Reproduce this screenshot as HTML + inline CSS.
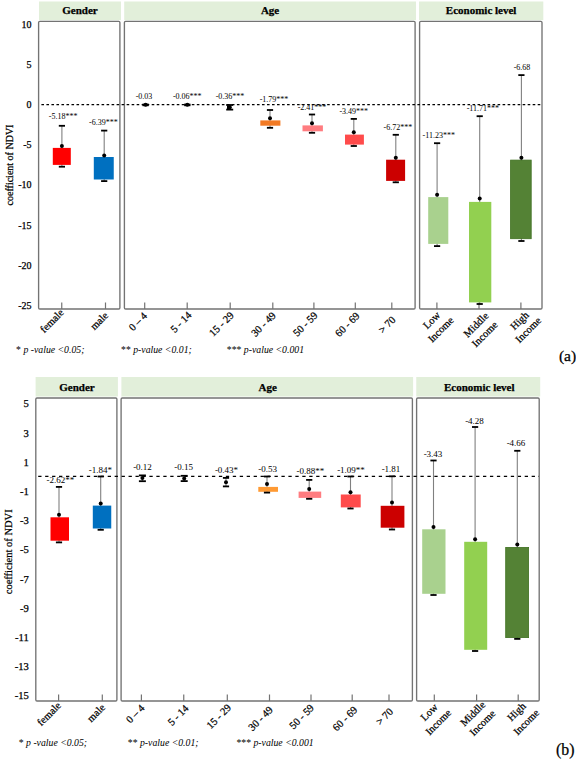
<!DOCTYPE html>
<html><head><meta charset="utf-8"><style>
html,body{margin:0;padding:0;background:#fff;}
svg{display:block;}
text{font-family:"Liberation Serif", serif;fill:#000;stroke:#000;stroke-width:0.25px;}
text.v{stroke:none;}
</style></head><body>
<svg width="576" height="759" viewBox="0 0 576 759">
<rect x="39.00" y="1.50" width="82.00" height="18.70" fill="#e2efda" />
<rect x="124.20" y="1.50" width="291.80" height="18.70" fill="#e2efda" />
<rect x="419.00" y="1.50" width="124.30" height="18.70" fill="#e2efda" />
<text x="80.00" y="14.30" font-size="11" text-anchor="middle" font-weight="bold" >Gender</text>
<text x="270.10" y="14.30" font-size="11" text-anchor="middle" font-weight="bold" >Age</text>
<text x="481.15" y="14.30" font-size="11" text-anchor="middle" font-weight="bold" >Economic level</text>
<rect x="38.60" y="21.30" width="81.30" height="287.70" rx="1.2" fill="none" stroke="#737373" stroke-width="1.35"/>
<rect x="124.40" y="21.30" width="290.70" height="287.70" rx="1.2" fill="none" stroke="#737373" stroke-width="1.35"/>
<rect x="419.60" y="21.30" width="122.40" height="287.70" rx="1.2" fill="none" stroke="#737373" stroke-width="1.35"/>
<line x1="41.40" y1="104.70" x2="541.50" y2="104.70" stroke="#000" stroke-width="1.2" stroke-dasharray="2.6 2.413"/>
<line x1="61.75" y1="302.50" x2="61.75" y2="309.00" stroke="#737373" stroke-width="1.2" />
<line x1="105.50" y1="302.50" x2="105.50" y2="309.00" stroke="#737373" stroke-width="1.2" />
<line x1="144.70" y1="302.50" x2="144.70" y2="309.00" stroke="#737373" stroke-width="1.2" />
<line x1="187.20" y1="302.50" x2="187.20" y2="309.00" stroke="#737373" stroke-width="1.2" />
<line x1="230.20" y1="302.50" x2="230.20" y2="309.00" stroke="#737373" stroke-width="1.2" />
<line x1="272.80" y1="302.50" x2="272.80" y2="309.00" stroke="#737373" stroke-width="1.2" />
<line x1="313.90" y1="302.50" x2="313.90" y2="309.00" stroke="#737373" stroke-width="1.2" />
<line x1="355.30" y1="302.50" x2="355.30" y2="309.00" stroke="#737373" stroke-width="1.2" />
<line x1="391.80" y1="302.50" x2="391.80" y2="309.00" stroke="#737373" stroke-width="1.2" />
<line x1="436.90" y1="302.50" x2="436.90" y2="309.00" stroke="#737373" stroke-width="1.2" />
<line x1="479.00" y1="302.50" x2="479.00" y2="309.00" stroke="#737373" stroke-width="1.2" />
<line x1="520.90" y1="302.50" x2="520.90" y2="309.00" stroke="#737373" stroke-width="1.2" />
<text x="31.60" y="27.60" font-size="10" text-anchor="end" >10</text>
<text x="31.60" y="67.80" font-size="10" text-anchor="end" >5</text>
<text x="31.60" y="108.00" font-size="10" text-anchor="end" >0</text>
<text x="31.60" y="148.20" font-size="10" text-anchor="end" >-5</text>
<text x="31.60" y="188.40" font-size="10" text-anchor="end" >-10</text>
<text x="31.60" y="228.60" font-size="10" text-anchor="end" >-15</text>
<text x="31.60" y="268.80" font-size="10" text-anchor="end" >-20</text>
<text x="31.60" y="309.00" font-size="10" text-anchor="end" >-25</text>
<text x="0" y="0" font-size="10" text-anchor="middle" transform="translate(13,165) rotate(-90)">coefficient of NDVI</text>
<line x1="61.90" y1="125.80" x2="61.90" y2="166.70" stroke="#808080" stroke-width="1.1" />
<rect x="52.80" y="147.90" width="18.00" height="17.00" fill="#ff0000" />
<rect x="58.80" y="124.90" width="6.20" height="1.80" fill="#000" />
<rect x="58.80" y="165.80" width="6.20" height="1.80" fill="#000" />
<circle cx="61.90" cy="146.00" r="2.0" fill="#000"/>
<text x="63.10" y="119.20" font-size="8" text-anchor="middle" class="v">-5.18***</text>
<line x1="104.20" y1="130.60" x2="104.20" y2="181.10" stroke="#808080" stroke-width="1.1" />
<rect x="93.80" y="157.00" width="19.95" height="22.50" fill="#0070c0" />
<rect x="101.10" y="129.70" width="6.20" height="1.80" fill="#000" />
<rect x="101.10" y="180.20" width="6.20" height="1.80" fill="#000" />
<circle cx="104.20" cy="155.40" r="2.0" fill="#000"/>
<text x="103.40" y="124.90" font-size="8" text-anchor="middle" class="v">-6.39***</text>
<line x1="145.60" y1="104.50" x2="145.60" y2="105.30" stroke="#808080" stroke-width="1.1" />
<rect x="142.50" y="103.60" width="6.20" height="1.80" fill="#000" />
<rect x="142.50" y="104.40" width="6.20" height="1.80" fill="#000" />
<circle cx="145.60" cy="104.80" r="2.0" fill="#000"/>
<text x="144.00" y="99.10" font-size="8" text-anchor="middle" class="v">-0.03</text>
<line x1="187.30" y1="104.50" x2="187.30" y2="105.30" stroke="#808080" stroke-width="1.1" />
<rect x="184.20" y="103.60" width="6.20" height="1.80" fill="#000" />
<rect x="184.20" y="104.40" width="6.20" height="1.80" fill="#000" />
<circle cx="187.30" cy="104.80" r="2.0" fill="#000"/>
<text x="187.30" y="99.10" font-size="8" text-anchor="middle" class="v">-0.06***</text>
<line x1="229.70" y1="105.00" x2="229.70" y2="109.60" stroke="#808080" stroke-width="1.1" />
<rect x="227.00" y="105.50" width="4.20" height="3.50" fill="#000" />
<rect x="226.20" y="104.10" width="7.00" height="1.80" fill="#000" />
<rect x="226.20" y="108.70" width="7.00" height="1.80" fill="#000" />
<circle cx="229.70" cy="107.20" r="2.0" fill="#000"/>
<text x="230.00" y="99.10" font-size="8" text-anchor="middle" class="v">-0.36***</text>
<line x1="270.00" y1="110.00" x2="270.00" y2="127.80" stroke="#808080" stroke-width="1.1" />
<rect x="260.30" y="120.40" width="20.10" height="5.30" fill="#f27a24" />
<rect x="266.90" y="109.10" width="6.20" height="1.80" fill="#000" />
<rect x="266.90" y="126.90" width="6.20" height="1.80" fill="#000" />
<circle cx="270.00" cy="118.30" r="2.0" fill="#000"/>
<text x="274.00" y="102.20" font-size="8" text-anchor="middle" class="v">-1.79***</text>
<line x1="312.00" y1="114.50" x2="312.00" y2="132.80" stroke="#808080" stroke-width="1.1" />
<rect x="302.50" y="125.40" width="20.40" height="5.90" fill="#ff7c80" />
<rect x="308.90" y="113.60" width="6.20" height="1.80" fill="#000" />
<rect x="308.90" y="131.90" width="6.20" height="1.80" fill="#000" />
<circle cx="312.00" cy="123.30" r="2.0" fill="#000"/>
<text x="312.00" y="109.60" font-size="8" text-anchor="middle" class="v">-2.41***</text>
<line x1="353.80" y1="118.90" x2="353.80" y2="146.00" stroke="#808080" stroke-width="1.1" />
<rect x="345.00" y="134.60" width="18.90" height="10.00" fill="#ff4b4b" />
<rect x="350.70" y="118.00" width="6.20" height="1.80" fill="#000" />
<rect x="350.70" y="145.10" width="6.20" height="1.80" fill="#000" />
<circle cx="353.80" cy="132.20" r="2.0" fill="#000"/>
<text x="353.80" y="114.10" font-size="8" text-anchor="middle" class="v">-3.49***</text>
<line x1="395.80" y1="134.80" x2="395.80" y2="182.30" stroke="#808080" stroke-width="1.1" />
<rect x="386.10" y="159.70" width="19.00" height="21.20" fill="#cc0000" />
<rect x="392.70" y="133.90" width="6.20" height="1.80" fill="#000" />
<rect x="392.70" y="181.40" width="6.20" height="1.80" fill="#000" />
<circle cx="395.80" cy="157.80" r="2.0" fill="#000"/>
<text x="397.90" y="130.00" font-size="8" text-anchor="middle" class="v">-6.72***</text>
<line x1="437.10" y1="143.20" x2="437.10" y2="246.10" stroke="#808080" stroke-width="1.1" />
<rect x="428.20" y="197.10" width="20.10" height="46.80" fill="#a9d18e" />
<rect x="434.00" y="142.30" width="6.20" height="1.80" fill="#000" />
<rect x="434.00" y="245.20" width="6.20" height="1.80" fill="#000" />
<circle cx="437.10" cy="194.70" r="2.0" fill="#000"/>
<text x="438.80" y="138.30" font-size="8" text-anchor="middle" class="v">-11.23***</text>
<line x1="479.70" y1="116.20" x2="479.70" y2="304.00" stroke="#808080" stroke-width="1.1" />
<rect x="469.00" y="201.90" width="22.30" height="100.50" fill="#92d050" />
<rect x="476.60" y="115.30" width="6.20" height="1.80" fill="#000" />
<rect x="476.60" y="303.10" width="6.20" height="1.80" fill="#000" />
<circle cx="479.70" cy="198.50" r="2.0" fill="#000"/>
<text x="482.90" y="110.90" font-size="8" text-anchor="middle" class="v">-11.71***</text>
<line x1="521.40" y1="75.10" x2="521.40" y2="241.00" stroke="#808080" stroke-width="1.1" />
<rect x="510.60" y="160.10" width="20.60" height="78.60" fill="#548235" stroke="#3f7020" stroke-width="0.8"/>
<rect x="518.30" y="74.20" width="6.20" height="1.80" fill="#000" />
<rect x="518.30" y="240.10" width="6.20" height="1.80" fill="#000" />
<circle cx="521.40" cy="157.70" r="2.0" fill="#000"/>
<text x="522.00" y="70.00" font-size="8" text-anchor="middle" class="v">-6.68</text>
<text class="v" x="16.10" y="352.50" font-size="9.75">* <tspan font-style="italic">p -value &lt;0.05;</tspan></text>
<text class="v" x="121.00" y="352.50" font-size="9.75">** <tspan font-style="italic">p-value &lt;0.01;</tspan></text>
<text class="v" x="226.80" y="352.50" font-size="9.75">*** <tspan font-style="italic">p-value &lt;0.001</tspan></text>
<text x="558.90" y="361.40" font-size="15.6" >(a)</text>
<text x="0" y="3.47" font-size="10.5" text-anchor="middle" transform="translate(51.85,320.95) rotate(-45)">female</text>
<text x="0" y="3.47" font-size="10.5" text-anchor="middle" transform="translate(99.20,320.85) rotate(-45)">male</text>
<text x="0" y="3.47" font-size="10.5" text-anchor="middle" transform="translate(137.90,321.55) rotate(-45)">0 – 4</text>
<text x="0" y="3.47" font-size="10.5" text-anchor="middle" transform="translate(181.00,322.10) rotate(-45)">5 - 14</text>
<text x="0" y="3.47" font-size="10.5" text-anchor="middle" transform="translate(221.40,324.10) rotate(-45)">15 - 29</text>
<text x="0" y="3.47" font-size="10.5" text-anchor="middle" transform="translate(263.45,324.25) rotate(-45)">30 - 49</text>
<text x="0" y="3.47" font-size="10.5" text-anchor="middle" transform="translate(305.30,324.10) rotate(-45)">50 - 59</text>
<text x="0" y="3.47" font-size="10.5" text-anchor="middle" transform="translate(347.30,324.55) rotate(-45)">60 - 69</text>
<text x="0" y="3.47" font-size="10.5" text-anchor="middle" transform="translate(387.05,324.70) rotate(-45)">&gt; 70</text>
<text x="0" y="3.47" font-size="10.5" text-anchor="middle" transform="translate(431.50,320.30) rotate(-45)">Low</text>
<text x="0" y="3.47" font-size="10.5" text-anchor="middle" transform="translate(440.80,329.50) rotate(-45)">Income</text>
<text x="0" y="3.47" font-size="10.5" text-anchor="middle" transform="translate(476.00,324.75) rotate(-45)">Middle</text>
<text x="0" y="3.47" font-size="10.5" text-anchor="middle" transform="translate(484.70,334.15) rotate(-45)">Income</text>
<text x="0" y="3.47" font-size="10.5" text-anchor="middle" transform="translate(519.50,320.70) rotate(-45)">High</text>
<text x="0" y="3.47" font-size="10.5" text-anchor="middle" transform="translate(528.20,329.90) rotate(-45)">Income</text>
<rect x="35.60" y="377.00" width="82.30" height="19.50" fill="#e2efda" />
<rect x="121.40" y="377.00" width="291.70" height="19.50" fill="#e2efda" />
<rect x="416.25" y="377.00" width="123.95" height="19.50" fill="#e2efda" />
<text x="77.05" y="391.00" font-size="11" text-anchor="middle" font-weight="bold" >Gender</text>
<text x="267.75" y="391.00" font-size="11" text-anchor="middle" font-weight="bold" >Age</text>
<text x="479.23" y="391.00" font-size="11" text-anchor="middle" font-weight="bold" >Economic level</text>
<rect x="35.80" y="398.00" width="81.10" height="303.00" rx="1.2" fill="none" stroke="#737373" stroke-width="1.35"/>
<rect x="121.10" y="398.00" width="291.30" height="303.00" rx="1.2" fill="none" stroke="#737373" stroke-width="1.35"/>
<rect x="416.60" y="398.00" width="122.60" height="303.00" rx="1.2" fill="none" stroke="#737373" stroke-width="1.35"/>
<line x1="38.20" y1="476.30" x2="539.00" y2="476.30" stroke="#000" stroke-width="1.2" stroke-dasharray="3.3 3.65"/>
<line x1="58.60" y1="694.50" x2="58.60" y2="701.00" stroke="#737373" stroke-width="1.2" />
<line x1="102.30" y1="694.50" x2="102.30" y2="701.00" stroke="#737373" stroke-width="1.2" />
<line x1="141.40" y1="694.50" x2="141.40" y2="701.00" stroke="#737373" stroke-width="1.2" />
<line x1="183.75" y1="694.50" x2="183.75" y2="701.00" stroke="#737373" stroke-width="1.2" />
<line x1="227.30" y1="694.50" x2="227.30" y2="701.00" stroke="#737373" stroke-width="1.2" />
<line x1="269.50" y1="694.50" x2="269.50" y2="701.00" stroke="#737373" stroke-width="1.2" />
<line x1="311.00" y1="694.50" x2="311.00" y2="701.00" stroke="#737373" stroke-width="1.2" />
<line x1="352.20" y1="694.50" x2="352.20" y2="701.00" stroke="#737373" stroke-width="1.2" />
<line x1="389.00" y1="694.50" x2="389.00" y2="701.00" stroke="#737373" stroke-width="1.2" />
<line x1="434.30" y1="694.50" x2="434.30" y2="701.00" stroke="#737373" stroke-width="1.2" />
<line x1="476.60" y1="694.50" x2="476.60" y2="701.00" stroke="#737373" stroke-width="1.2" />
<line x1="518.20" y1="694.50" x2="518.20" y2="701.00" stroke="#737373" stroke-width="1.2" />
<text x="28.80" y="407.40" font-size="10.6" text-anchor="end" >5</text>
<text x="28.80" y="436.60" font-size="10.6" text-anchor="end" >3</text>
<text x="28.80" y="465.80" font-size="10.6" text-anchor="end" >1</text>
<text x="28.80" y="495.00" font-size="10.6" text-anchor="end" >-1</text>
<text x="28.80" y="524.20" font-size="10.6" text-anchor="end" >-3</text>
<text x="28.80" y="553.40" font-size="10.6" text-anchor="end" >-5</text>
<text x="28.80" y="582.60" font-size="10.6" text-anchor="end" >-7</text>
<text x="28.80" y="611.80" font-size="10.6" text-anchor="end" >-9</text>
<text x="28.80" y="641.00" font-size="10.6" text-anchor="end" >-11</text>
<text x="28.80" y="670.20" font-size="10.6" text-anchor="end" >-13</text>
<text x="28.80" y="699.40" font-size="10.6" text-anchor="end" >-15</text>
<text x="0" y="0" font-size="10.5" text-anchor="middle" transform="translate(12.2,551.8) rotate(-90)">coefficient of NDVI</text>
<line x1="59.00" y1="486.90" x2="59.00" y2="542.40" stroke="#808080" stroke-width="1.1" />
<rect x="50.50" y="517.30" width="18.50" height="23.40" fill="#ff0000" />
<rect x="55.90" y="486.00" width="6.20" height="1.80" fill="#000" />
<rect x="55.90" y="541.50" width="6.20" height="1.80" fill="#000" />
<circle cx="59.00" cy="514.70" r="2.0" fill="#000"/>
<text x="60.40" y="483.30" font-size="9" text-anchor="middle" class="v">-2.62**</text>
<line x1="100.70" y1="476.50" x2="100.70" y2="529.80" stroke="#808080" stroke-width="1.1" />
<rect x="92.80" y="505.60" width="18.45" height="22.90" fill="#0070c0" />
<rect x="97.60" y="475.60" width="6.20" height="1.80" fill="#000" />
<rect x="97.60" y="528.90" width="6.20" height="1.80" fill="#000" />
<circle cx="100.70" cy="503.40" r="2.0" fill="#000"/>
<text x="100.30" y="473.40" font-size="9" text-anchor="middle" class="v">-1.84*</text>
<line x1="142.40" y1="475.40" x2="142.40" y2="481.20" stroke="#808080" stroke-width="1.1" />
<rect x="138.90" y="474.50" width="7.00" height="1.80" fill="#000" />
<rect x="138.90" y="480.30" width="7.00" height="1.80" fill="#000" />
<circle cx="142.40" cy="478.00" r="2.0" fill="#000"/>
<text x="142.50" y="470.30" font-size="9" text-anchor="middle" class="v">-0.12</text>
<line x1="184.20" y1="475.80" x2="184.20" y2="481.10" stroke="#808080" stroke-width="1.1" />
<rect x="180.70" y="474.90" width="7.00" height="1.80" fill="#000" />
<rect x="180.70" y="480.20" width="7.00" height="1.80" fill="#000" />
<circle cx="184.20" cy="478.50" r="2.0" fill="#000"/>
<text x="183.60" y="470.30" font-size="9" text-anchor="middle" class="v">-0.15</text>
<line x1="226.00" y1="477.90" x2="226.00" y2="486.40" stroke="#808080" stroke-width="1.1" />
<rect x="222.90" y="477.00" width="6.20" height="1.80" fill="#000" />
<rect x="222.90" y="485.50" width="6.20" height="1.80" fill="#000" />
<circle cx="226.00" cy="482.20" r="2.0" fill="#000"/>
<text x="226.50" y="472.50" font-size="9" text-anchor="middle" class="v">-0.43*</text>
<line x1="267.00" y1="476.50" x2="267.00" y2="492.60" stroke="#808080" stroke-width="1.1" />
<rect x="258.30" y="486.90" width="19.70" height="4.90" fill="#ff9a33" />
<rect x="263.90" y="475.60" width="6.20" height="1.80" fill="#000" />
<rect x="263.90" y="491.70" width="6.20" height="1.80" fill="#000" />
<circle cx="267.00" cy="484.00" r="2.0" fill="#000"/>
<text x="267.70" y="472.00" font-size="9" text-anchor="middle" class="v">-0.53</text>
<line x1="309.20" y1="479.90" x2="309.20" y2="498.80" stroke="#808080" stroke-width="1.1" />
<rect x="298.60" y="491.60" width="22.60" height="6.30" fill="#ff7c80" />
<rect x="306.10" y="479.00" width="6.20" height="1.80" fill="#000" />
<rect x="306.10" y="497.90" width="6.20" height="1.80" fill="#000" />
<circle cx="309.20" cy="488.90" r="2.0" fill="#000"/>
<text x="310.30" y="474.30" font-size="9" text-anchor="middle" class="v">-0.88**</text>
<line x1="350.50" y1="476.50" x2="350.50" y2="508.50" stroke="#808080" stroke-width="1.1" />
<rect x="340.80" y="494.50" width="19.90" height="12.90" fill="#ff4b4b" />
<rect x="347.40" y="475.60" width="6.20" height="1.80" fill="#000" />
<rect x="347.40" y="507.60" width="6.20" height="1.80" fill="#000" />
<circle cx="350.50" cy="492.30" r="2.0" fill="#000"/>
<text x="351.00" y="473.20" font-size="9" text-anchor="middle" class="v">-1.09**</text>
<line x1="392.00" y1="476.30" x2="392.00" y2="529.50" stroke="#808080" stroke-width="1.1" />
<rect x="380.70" y="505.80" width="23.70" height="21.90" fill="#cc0000" />
<rect x="388.90" y="475.40" width="6.20" height="1.80" fill="#000" />
<rect x="388.90" y="528.60" width="6.20" height="1.80" fill="#000" />
<circle cx="392.00" cy="502.40" r="2.0" fill="#000"/>
<text x="391.00" y="472.00" font-size="9" text-anchor="middle" class="v">-1.81</text>
<line x1="433.50" y1="460.50" x2="433.50" y2="595.00" stroke="#808080" stroke-width="1.1" />
<rect x="422.20" y="529.30" width="23.30" height="64.50" fill="#a9d18e" />
<rect x="430.40" y="459.60" width="6.20" height="1.80" fill="#000" />
<rect x="430.40" y="594.10" width="6.20" height="1.80" fill="#000" />
<circle cx="433.50" cy="526.90" r="2.0" fill="#000"/>
<text x="433.00" y="456.70" font-size="9" text-anchor="middle" class="v">-3.43</text>
<line x1="475.10" y1="427.00" x2="475.10" y2="651.00" stroke="#808080" stroke-width="1.1" />
<rect x="464.20" y="541.80" width="23.00" height="108.00" fill="#92d050" />
<rect x="472.00" y="426.10" width="6.20" height="1.80" fill="#000" />
<rect x="472.00" y="650.10" width="6.20" height="1.80" fill="#000" />
<circle cx="475.10" cy="539.30" r="2.0" fill="#000"/>
<text x="474.50" y="424.00" font-size="9" text-anchor="middle" class="v">-4.28</text>
<line x1="517.30" y1="450.80" x2="517.30" y2="638.90" stroke="#808080" stroke-width="1.1" />
<rect x="505.70" y="547.40" width="22.90" height="90.20" fill="#548235" stroke="#3f7020" stroke-width="0.8"/>
<rect x="514.20" y="449.90" width="6.20" height="1.80" fill="#000" />
<rect x="514.20" y="638.00" width="6.20" height="1.80" fill="#000" />
<circle cx="517.30" cy="544.50" r="2.0" fill="#000"/>
<text x="516.00" y="445.90" font-size="9" text-anchor="middle" class="v">-4.66</text>
<text class="v" x="18.75" y="745.80" font-size="9.75">* <tspan font-style="italic">p -value &lt;0.05;</tspan></text>
<text class="v" x="127.80" y="745.80" font-size="9.75">** <tspan font-style="italic">p-value &lt;0.01;</tspan></text>
<text class="v" x="236.40" y="745.80" font-size="9.75">*** <tspan font-style="italic">p-value &lt;0.001</tspan></text>
<text x="556.00" y="754.60" font-size="15.8" >(b)</text>
<text x="0" y="3.47" font-size="10.5" text-anchor="middle" transform="translate(49.00,713.85) rotate(-45)">female</text>
<text x="0" y="3.47" font-size="10.5" text-anchor="middle" transform="translate(96.10,712.95) rotate(-45)">male</text>
<text x="0" y="3.47" font-size="10.5" text-anchor="middle" transform="translate(135.25,713.80) rotate(-45)">0 – 4</text>
<text x="0" y="3.47" font-size="10.5" text-anchor="middle" transform="translate(178.10,715.15) rotate(-45)">5 - 14</text>
<text x="0" y="3.47" font-size="10.5" text-anchor="middle" transform="translate(218.80,716.45) rotate(-45)">15 - 29</text>
<text x="0" y="3.47" font-size="10.5" text-anchor="middle" transform="translate(260.50,718.55) rotate(-45)">30 - 49</text>
<text x="0" y="3.47" font-size="10.5" text-anchor="middle" transform="translate(301.60,716.70) rotate(-45)">50 - 59</text>
<text x="0" y="3.47" font-size="10.5" text-anchor="middle" transform="translate(344.90,718.65) rotate(-45)">60 - 69</text>
<text x="0" y="3.47" font-size="10.5" text-anchor="middle" transform="translate(384.50,716.60) rotate(-45)">&gt; 70</text>
<text x="0" y="3.47" font-size="10.5" text-anchor="middle" transform="translate(429.00,712.30) rotate(-45)">Low</text>
<text x="0" y="3.47" font-size="10.5" text-anchor="middle" transform="translate(438.30,722.05) rotate(-45)">Income</text>
<text x="0" y="3.47" font-size="10.5" text-anchor="middle" transform="translate(472.75,713.60) rotate(-45)">Middle</text>
<text x="0" y="3.47" font-size="10.5" text-anchor="middle" transform="translate(482.50,722.95) rotate(-45)">Income</text>
<text x="0" y="3.47" font-size="10.5" text-anchor="middle" transform="translate(516.45,711.85) rotate(-45)">High</text>
<text x="0" y="3.47" font-size="10.5" text-anchor="middle" transform="translate(526.30,722.05) rotate(-45)">Income</text>
</svg>
</body></html>
